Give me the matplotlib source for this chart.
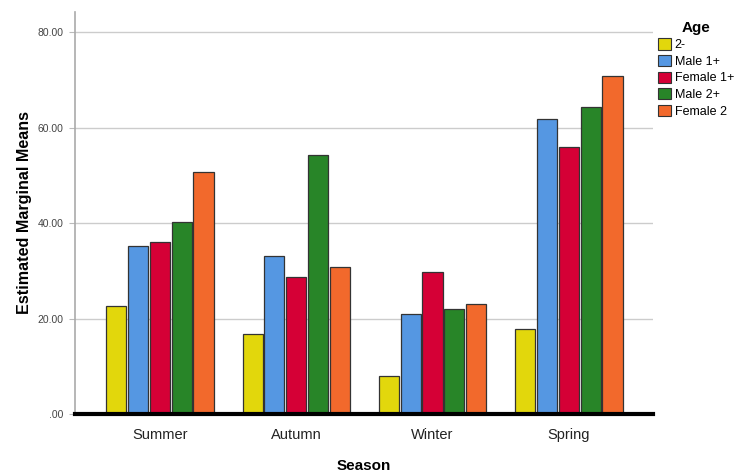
import numpy as np
import matplotlib.pyplot as plt
from matplotlib.patches import Patch

plt.rcParams['font.family'] = ['Liberation Sans', 'DejaVu Sans']

seasons = ['Summer', 'Autumn', 'Winter', 'Spring']
groups = ['2-', 'Male 1+', 'Female 1+', 'Male 2+', 'Female 2']
colors = ['#E2D70C', '#5597E2', '#D50036', '#288528', '#F2692C']

age_2 = [22.7, 16.7, 8.0, 17.9]
male_1 = [35.2, 33.1, 20.9, 61.8]
female_1 = [36.0, 28.7, 29.8, 56.0]
male_2 = [40.3, 54.2, 21.9, 64.4]
female_2 = [50.7, 30.8, 23.0, 70.8]
series = [age_2, male_1, female_1, male_2, female_2]

fig = plt.figure(figsize=(7.35, 4.73), dpi=100)
ax = fig.add_axes([0.102, 0.1247, 0.786, 0.85])

x = np.arange(len(seasons))
stride = 0.16
for i, (vals, c) in enumerate(zip(series, colors)):
    ax.bar(x + (i - 2) * stride, vals, width=0.148, color=c,
           edgecolor='#333333', linewidth=0.9, zorder=3)

ax.set_xlim(-0.623, 3.615)
ax.set_ylim(0, 84.2)
ax.set_yticks([0, 20, 40, 60, 80])
ax.set_yticklabels(['.00', '20.00', '40.00', '60.00', '80.00'],
                   fontsize=7.5, color='#444444')
ax.set_xticks(x)
ax.set_xticklabels(seasons, fontsize=10.5, color='#222222')
ax.tick_params(axis='x', length=0, pad=10)
ax.tick_params(axis='y', length=4, color='#bbbbbb', pad=4)
ax.grid(axis='y', color='#cccccc', linewidth=1, zorder=0)

for s in ['top', 'right']:
    ax.spines[s].set_visible(False)
ax.spines['left'].set_color('#aaaaaa')
ax.spines['left'].set_linewidth(1.2)
ax.spines['bottom'].set_color('black')
ax.spines['bottom'].set_linewidth(3)
ax.spines['bottom'].set_zorder(4)

ax.set_xlabel('Season', fontsize=11, fontweight='bold', labelpad=12)
ax.set_ylabel('Estimated Marginal Means', fontsize=11.6, fontweight='bold')
ax.yaxis.set_label_coords(-0.074, 0.50)

handles = [Patch(facecolor=c, edgecolor='#333333', linewidth=0.8) for c in colors]
leg = fig.legend(handles, groups, loc='upper left', bbox_to_anchor=(0.884, 0.975),
                 frameon=False, fontsize=9, title='Age',
                 title_fontproperties={'weight': 'bold', 'size': 11},
                 handlelength=1.0, handleheight=1.0, handletextpad=0.3,
                 labelspacing=0.3, borderpad=0.2)
leg._legend_box.align = 'center'

fig.savefig('out.png', dpi=100)
